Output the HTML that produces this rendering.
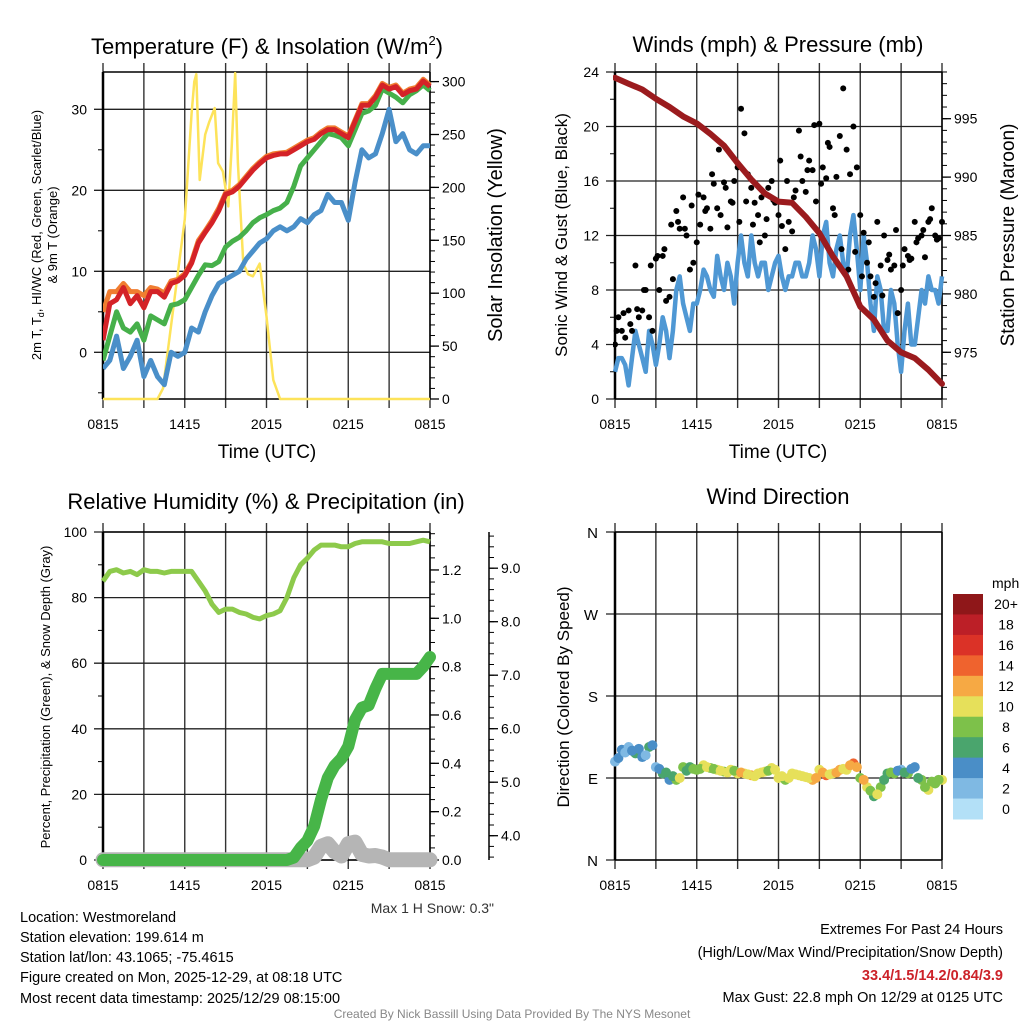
<!DOCTYPE html>
<html><head><meta charset="utf-8">
<style>
html,body{margin:0;padding:0;background:#fff;}
svg{display:block;font-family:"Liberation Sans",Arial,sans-serif;}
</style></head>
<body>
<svg id="chart" width="1024" height="1024" viewBox="0 0 1024 1024" xmlns="http://www.w3.org/2000/svg">
<rect x="0" y="0" width="1024" height="1024" fill="#fff"/>
<text x="267" y="54" font-size="22" text-anchor="middle">Temperature (F) &amp; Insolation (W/m<tspan dy="-9" font-size="13">2</tspan><tspan dy="9">)</tspan></text>
<text x="778" y="52" font-size="22" text-anchor="middle">Winds (mph) &amp; Pressure (mb)</text>
<text x="266" y="509" font-size="22" text-anchor="middle">Relative Humidity (%) &amp; Precipitation (in)</text>
<text x="778" y="504" font-size="22" text-anchor="middle">Wind Direction</text>

<text transform="translate(41,235) rotate(-90)" font-size="13" text-anchor="middle">2m T, T<tspan font-size="9" dy="3">d</tspan><tspan dy="-3">, HI/WC (Red, Green, Scarlet/Blue)</tspan></text>
<text transform="translate(57,235) rotate(-90)" font-size="13" text-anchor="middle">&amp; 9m T (Orange)</text>
<text transform="translate(502,235) rotate(-90)" font-size="20" text-anchor="middle">Solar Insolation (Yellow)</text>
<text x="267" y="458" font-size="19" text-anchor="middle">Time (UTC)</text>
<text transform="translate(567,235) rotate(-90)" font-size="17" text-anchor="middle">Sonic Wind &amp; Gust (Blue, Black)</text>
<text transform="translate(1014,235) rotate(-90)" font-size="19" text-anchor="middle">Station Pressure (Maroon)</text>
<text x="778" y="458" font-size="19" text-anchor="middle">Time (UTC)</text>
<text transform="translate(50,697) rotate(-90)" font-size="13" text-anchor="middle">Percent, Precipitation (Green), &amp; Snow Depth (Gray)</text>
<text transform="translate(569,697) rotate(-90)" font-size="17" text-anchor="middle">Direction (Colored By Speed)</text>

<text x="494" y="913" font-size="14" fill="#333" text-anchor="end">Max 1 H Snow: 0.3"</text>
<g font-size="14.5" fill="#000">
<text x="20" y="922">Location: Westmoreland</text>
<text x="20" y="942">Station elevation: 199.614 m</text>
<text x="20" y="962">Station lat/lon: 43.1065; -75.4615</text>
<text x="20" y="982">Figure created on Mon, 2025-12-29, at 08:18 UTC</text>
<text x="20" y="1003">Most recent data timestamp: 2025/12/29 08:15:00</text>
</g>
<g font-size="14.5" text-anchor="end">
<text x="1003" y="934">Extremes For Past 24 Hours</text>
<text x="1003" y="957">(High/Low/Max Wind/Precipitation/Snow Depth)</text>
<text x="1003" y="980" fill="#cc2229" font-weight="bold">33.4/1.5/14.2/0.84/3.9</text>
<text x="1003" y="1002">Max Gust: 22.8 mph On 12/29 at 0125 UTC</text>
</g>
<text x="512" y="1018" font-size="12" fill="#888" text-anchor="middle">Created By Nick Bassill Using Data Provided By The NYS Mesonet</text>
</svg>
<script>
// ---- data (half-hourly from 0815 UTC unless noted) ----
const xTickLabels = ["0815","1415","2015","0215","0815"];
const xTickHours = [0,6,12,18,24];
const tempTicks = [0,10,20,30];
const solarTicks = [0,50,100,150,200,250,300];
const windTicks = [0,4,8,12,16,20,24];
const pressTicks = [975,980,985,990,995];
const rhTicks = [0,20,40,60,80,100];
const precipTicks = ["0.0","0.2","0.4","0.6","0.8","1.0","1.2"];
const snowTicks = ["4.0","5.0","6.0","7.0","8.0","9.0"];
const dirLabels = ["N","E","S","W","N"];
const speedBinLabels = ["0","2","4","6","8","10","12","14","16","18","20+"];
const speedColors = ["#b3e0f7","#7fb9e3","#4a8ec7","#4aa56d","#7dc14a","#e6e05a","#f6a944","#ef632e","#db3227","#bc1f27","#8f1719"];

const tempRed = [1.5,6,6.5,8,6,7,5.5,7.5,7.5,6.8,8.5,8.8,9.5,11,13.5,14.8,16,17.5,19.5,19.8,20.5,21.5,22.5,23.3,24,24.3,24.5,24.5,25,25.5,26,26.3,27,27.5,27.5,27,26.5,28.5,30.5,30.5,31.5,33,32.5,32.8,31.8,32.3,32.5,33.5,32.8];
const tempOrange = [5,7.5,7.5,8.5,7.5,7.5,7,8,7.8,7.3,8.8,9,9.7,11.2,13.8,15,16.3,17.8,19.7,20,20.7,21.7,22.7,23.5,24.2,24.5,24.6,24.7,25.2,25.7,26.2,26.5,27.2,27.7,27.7,27.2,26.7,28.7,30.7,30.7,31.7,33.2,32.7,33,32,32.5,32.7,33.7,33];
const tempGreen = [-1,2,5,3,2.5,3.5,1.5,4.5,4,3.5,5.8,6,6.5,8,9.5,10.8,10.7,11.2,13,13.7,14.2,15,16,16.6,17,17.5,17.8,18.5,20.5,23,24,25,26,27,26.8,26.5,25.5,27.5,29.5,29.8,30.5,32.5,32,31.5,30.8,31.8,32.3,33,32.3];
const dewBlue = [-2,-1,2,-2,-0.5,1.5,-3,-1,-3,-4,0,-0.5,0,3,2.5,5,7,8.5,9,9.5,10,11.5,12.5,13.5,14,15,15.5,15,15.5,16.5,16,17,17.5,19.5,18.5,18.5,16.3,21,25,24,24.5,27,30,26,27,25,24.5,25.5,25.5];
const solarHours = [0,4,4.4,4.9,5.4,6,6.5,6.7,6.85,7.1,7.5,7.8,8.2,8.45,8.8,9.2,9.45,9.7,9.9,10.3,10.65,11,11.5,12,12.5,13,24];
const solarValues = [0,0,10,60,110,170,270,300,307,207,250,262,275,223,215,182,240,308,223,128,118,116,128,78,18,0,0];

// wind speed every 15 minutes
const windSpd15 = [2,3,3,2.5, 1,3,5,4, 3,2,5,4, 2.5,4,6,5, 3,5,8,9, 7,6,5,7, 7,8,9.5,9, 8,7.5,10.5,9, 8,10,9,7, 10,12,10,9, 12,10,9,10, 10,8,9,10, 10.5,9,8,9, 9,10,10,9, 9,10,12,11, 9,12,13,10, 9,11,12,10, 9,12,13.5,11, 8,12,10,7, 5,9,8,5, 5,8,7,4, 2,5,7,4, 4,6,8,7, 9,8,8,7, 9];
// gusts every 15 minutes, plus offset samples
const gustSpd = [4,6,5,4.5,6.5,5,9.8,6,6.5,8,6,5,10.3,8,10.5,7.2,7.5,8.8,13.8,12.5,14.8,12,9.5,10,11.5,12.8,14.8,14,12.5,15.8,14,13.5,15.9,12.6,14.5,16,17,21.3,19.5,16.5,15.5,14.4,13.5,14.8,12,15.5,16,14.4,13.5,12.7,11,13,12.3,15.3,19.7,16,15.2,17.5,16.8,14.5,20.2,17,16.2,18.5,14,16.3,19.3,22.8,18.3,16.5,20,17,13.5,12.2,10,9,7.5,13,9.8,12,10.2,9.5,9.8,6.3,8,11,10.5,10.3,13,11.8,12,10.4,13,14,12,11.8,13];
const gustSpd2 = [5,6.3,5.5,6.6,8,9.8,10.5,11,12.8,13,12.5,14.2,15,13.8,16.5,18.3,15.5,14.4,13,14.5,12.8,11.5,13.2,14.6,17.5,16,14.8,17.8,16.8,20.1,15.8,18.8,13.5,11,9.5,10.8,9,11.5,8.5,7.6,10.6,12.4,9.8,10.2,11.5,12.4,13.2,11.7];
const pressure = [998.5,998,997.5,996.7,996,995.2,994.6,993.7,992.7,991.2,989.8,988.6,987.9,987.8,986.6,985.2,983.2,981.5,978.9,977.8,976,975,974.5,973.5,972.3];

const rh = [85,88,88.5,87.5,88,87,88.5,88,88,87.5,88,88,88,88,85,82,78,75.5,76.5,76.5,75.5,75,74,73.5,74.5,75,76,80,86,90,92,94.5,96,96,96,95.5,95.5,96.5,97,97,97,97,96.5,96.5,96.5,96.5,97,97.5,97];
const precip = [0,0,0,0,0,0,0,0,0,0,0,0,0,0,0,0,0,0,0,0,0,0,0,0,0,0,0,0,0.01,0.05,0.08,0.14,0.25,0.34,0.39,0.42,0.47,0.58,0.63,0.64,0.71,0.77,0.77,0.77,0.77,0.77,0.77,0.8,0.84];
const snowDepth = [3.55,3.55,3.55,3.55,3.55,3.55,3.55,3.55,3.55,3.55,3.55,3.55,3.55,3.55,3.55,3.55,3.55,3.55,3.55,3.55,3.55,3.55,3.55,3.55,3.55,3.55,3.55,3.55,3.55,3.55,3.55,3.6,3.8,3.85,3.7,3.62,3.85,3.88,3.65,3.62,3.63,3.6,3.55,3.55,3.55,3.55,3.55,3.55,3.55];
const windDir = [108,121,124,117,113,124,102,95,88,88,102,102,99,104,101,99,97,99,95,95,93,95,97,101,90,88,95,93,91,88,99,93,95,99,99,106,90,80,70,80,95,95,99,95,102,88,77,84,88];
const windDir2 = [112,118,120,122,115,126,100,96,92,90,98,100,100,102,100,98,96,98,96,94,92,96,98,99,92,90,94,92,90,90,96,94,96,100,104,102,88,76,72,88,96,98,96,100,90,80,86,88];

// ---- helpers ----
const NS = "http://www.w3.org/2000/svg";
const svg = document.getElementById('chart');
function mk(tag, name, attrs, parent){
  const el = document.createElementNS(NS, tag);
  
  
  for (const k in attrs) el.setAttribute(k, attrs[k]);
  (parent || svg).appendChild(el);
  return el;
}
function txt(name, x, y, s, size, anchor, parent){
  const t = mk('text', name, {x:x, y:y, 'font-size':size, 'text-anchor':anchor}, parent);
  t.textContent = s;
  return t;
}
function pathOf(xs, ys){ return xs.map((x,i)=>(i?'L':'M')+x.toFixed(1)+' '+ys[i].toFixed(1)).join(' '); }
const halfHours = rh.map((_,i)=>i*0.5);

function panelFrame(prefix, x0, x1, yT, yB, hLines){
  const g = mk('g', prefix+'-frame', {});
  const xs = h => x0 + h*(x1-x0)/24;
  for (let h=0; h<=24; h+=3){
    mk('line', prefix+'-v-gridline', {x1:xs(h), x2:xs(h), y1:yT-9, y2:yB+9, stroke:'#333', 'stroke-width':1.4}, g);
  }
  hLines.forEach(y=>{
    mk('line', prefix+'-h-gridline', {x1:x0-9, x2:x1, y1:y, y2:y, stroke:'#222', 'stroke-width':1.3}, g);
  });
  mk('line', prefix+'-top-border', {x1:x0, x2:x1, y1:yT, y2:yT, stroke:'#000', 'stroke-width':1.5}, g);
  mk('line', prefix+'-bottom-border', {x1:x0, x2:x1, y1:yB, y2:yB, stroke:'#000', 'stroke-width':1.5}, g);
  mk('line', prefix+'-left-axis', {x1:x0, x2:x0, y1:yT, y2:yB, stroke:'#000', 'stroke-width':2.5}, g);
  mk('line', prefix+'-right-axis', {x1:x1, x2:x1, y1:yT, y2:yB, stroke:'#000', 'stroke-width':1.5}, g);
  const lab = mk('g', prefix+'-x-tick-labels', {}, g);
  xTickHours.forEach((h,i)=> txt(prefix+'-x-tick-label', xs(h), yB+30, xTickLabels[i], 14, 'middle', lab));
  return xs;
}
function rightTicks(prefix, x, yTop, yBot, majors, minorsFn){
  const g = mk('g', prefix+'-ticks', {});
  minorsFn().forEach(y=>{ if (y>=yTop-0.5 && y<=yBot+0.5) mk('line', prefix+'-minor-tick', {x1:x, x2:x+5, y1:y, y2:y, stroke:'#000','stroke-width':1}, g); });
  majors.forEach(m=>{
    mk('line', prefix+'-major-tick', {x1:x, x2:x+9, y1:m.y, y2:m.y, stroke:'#000','stroke-width':1.3}, g);
    txt(prefix+'-tick-label', x+12, m.y+5, m.label, 14, 'start', g);
  });
}
function leftLabels(prefix, x0, majors, minorYs){
  const g = mk('g', prefix+'-ticks', {});
  (minorYs||[]).forEach(y=> mk('line', prefix+'-minor-tick', {x1:x0-5, x2:x0, y1:y, y2:y, stroke:'#000','stroke-width':1}, g));
  majors.forEach(m=> txt(prefix+'-tick-label', x0-16, m.y+5, m.label, 14, 'end', g));
}

// ===== Panel 1: Temperature =====
const P1 = {x0:103, x1:430, yT:72, yB:399};
const yT1 = v => 352.3 - v*8.1;
const yS1 = w => 399 - w*1.058;
const x1f = panelFrame('temp', P1.x0, P1.x1, P1.yT, P1.yB, tempTicks.map(yT1));
leftLabels('temp-left', P1.x0, tempTicks.map(v=>({y:yT1(v), label:String(v)})), [-5,5,15,25].map(yT1));
rightTicks('solar-right', P1.x1, P1.yT, P1.yB, solarTicks.map(v=>({y:yS1(v), label:String(v)})),
  ()=>{const a=[]; for(let w=0; w<=310; w+=10) a.push(yS1(w)); return a;});
const clip1 = mk('clipPath','temp-clip',{id:'clip1'});
mk('rect','temp-clip-rect',{x:P1.x0, y:P1.yT-2, width:P1.x1-P1.x0+4, height:P1.yB-P1.yT+4}, clip1);
const g1 = mk('g','temp-series',{'clip-path':'url(#clip1)'});
mk('path','solar-line',{d:pathOf(solarHours.map(x1f), solarValues.map(yS1)), fill:'none', stroke:'#fde35a','stroke-width':2.5,'stroke-linejoin':'round'}, g1);
mk('path','dewpoint-line',{d:pathOf(halfHours.map(x1f), dewBlue.map(yT1)), fill:'none', stroke:'#4a8fc9','stroke-width':5,'stroke-linejoin':'round'}, g1);
mk('path','windchill-line',{d:pathOf(halfHours.map(x1f), tempGreen.map(yT1)), fill:'none', stroke:'#46b04a','stroke-width':5,'stroke-linejoin':'round'}, g1);
mk('path','temp-9m-line',{d:pathOf(halfHours.map(x1f), tempOrange.map(yT1)), fill:'none', stroke:'#f07d30','stroke-width':5,'stroke-linejoin':'round'}, g1);
mk('path','temp-2m-line',{d:pathOf(halfHours.map(x1f), tempRed.map(yT1)), fill:'none', stroke:'#d42227','stroke-width':5,'stroke-linejoin':'round'}, g1);

// ===== Panel 2: Winds & Pressure =====
const P2 = {x0:615, x1:942, yT:72, yB:399};
const yW2 = v => 399 - v*13.625;
const yP2 = p => 352.3 - (p-975)*11.68;
const x2f = panelFrame('wind', P2.x0, P2.x1, P2.yT, P2.yB, windTicks.map(yW2));
leftLabels('wind-left', P2.x0, windTicks.map(v=>({y:yW2(v), label:String(v)})), [2,6,10,14,18,22].map(yW2));
rightTicks('pressure-right', P2.x1, P2.yT, P2.yB, pressTicks.map(v=>({y:yP2(v), label:String(v)})),
  ()=>{const a=[]; for(let p=971; p<=999; p++) a.push(yP2(p)); return a;});
const clip2 = mk('clipPath','wind-clip',{id:'clip2'});
mk('rect','wind-clip-rect',{x:P2.x0-2, y:P2.yT-4, width:P2.x1-P2.x0+6, height:P2.yB-P2.yT+6}, clip2);
const g2 = mk('g','wind-series',{'clip-path':'url(#clip2)'});
const quarterHours = windSpd15.map((_,i)=>i*0.25);
mk('path','wind-speed-line',{d:pathOf(quarterHours.map(x2f), windSpd15.map(yW2)), fill:'none', stroke:'#4f98d4','stroke-width':4.5,'stroke-linejoin':'round'}, g2);
const gustG = mk('g','gust-points',{}, g2);
gustSpd.forEach((v,i)=>{
  mk('circle','gust-point',{cx:x2f(i*0.25), cy:yW2(v), r:3, fill:'#000'}, gustG);
});
gustSpd2.forEach((v,i)=>{
  mk('circle','gust-point',{cx:x2f(0.125+i*0.5), cy:yW2(v), r:3, fill:'#000'}, gustG);
});
const hours = pressure.map((_,i)=>i);
mk('path','pressure-line',{d:pathOf(hours.map(x2f), pressure.map(yP2)), fill:'none', stroke:'#9b1b1e','stroke-width':6,'stroke-linecap':'round','stroke-linejoin':'round'}, g2);

// ===== Panel 3: RH & Precip =====
const P3 = {x0:103, x1:430, yT:532, yB:860};
const yR3 = v => 860 - v*3.28;
const yPr3 = p => 860 - p*241.7;
const ySn3 = s => 835.7 - (s-4)*53.5;
const x3f = panelFrame('rh', P3.x0, P3.x1, P3.yT, P3.yB, rhTicks.map(yR3));
leftLabels('rh-left', P3.x0, rhTicks.map(v=>({y:yR3(v), label:String(v)})), [10,30,50,70,90].map(yR3));
rightTicks('precip-right', P3.x1, P3.yT, P3.yB, precipTicks.map(v=>({y:yPr3(parseFloat(v)), label:v})),
  ()=>{const a=[]; for(let p=0; p<=1.36; p+=0.05) a.push(yPr3(p)); return a;});
mk('line','snow-axis-line',{x1:489, x2:489, y1:P3.yT, y2:P3.yB, stroke:'#000','stroke-width':1.5});
rightTicks('snow-right', 489, P3.yT, P3.yB, snowTicks.map(v=>({y:ySn3(parseFloat(v)), label:v})),
  ()=>{const a=[]; for(let s=3.6; s<=9.6; s+=0.2) a.push(ySn3(s)); return a;});
const g3 = mk('g','rh-series',{});
mk('path','snow-depth-line',{d:pathOf(halfHours.map(x3f), snowDepth.map(ySn3)), fill:'none', stroke:'#b5b5b5','stroke-width':15,'stroke-linecap':'round','stroke-linejoin':'round'}, g3);
mk('path','precip-line',{d:pathOf(halfHours.map(x3f), precip.map(yPr3)), fill:'none', stroke:'#47b548','stroke-width':12,'stroke-linecap':'round','stroke-linejoin':'round'}, g3);
mk('path','rh-line',{d:pathOf(halfHours.map(x3f), rh.map(yR3)), fill:'none', stroke:'#8dca4b','stroke-width':5,'stroke-linejoin':'round'}, g3);

// ===== Panel 4: Wind direction =====
const P4 = {x0:615, x1:942, yT:532, yB:860};
const yD4 = d => 860 - d*(328/360);
const dirDeg = [0,90,180,270,360];
const x4f = panelFrame('direction', P4.x0, P4.x1, P4.yT, P4.yB, dirDeg.map(yD4));
const dl = mk('g','direction-tick-labels',{});
dirDeg.forEach((d,i)=> txt('direction-tick-label', 598, yD4(d)+6, dirLabels[i], 15, 'end', dl));
const g4 = mk('g','direction-points',{});
windDir.forEach((d,i)=>{
  const bin = Math.min(10, Math.round(windSpd15[i*2]/2));
  mk('circle','direction-point',{cx:x4f(i*0.5), cy:yD4(d), r:5, fill:speedColors[bin]}, g4);
});
windDir2.forEach((d,i)=>{
  const bin = Math.min(10, Math.round(windSpd15[i*2+1]/2));
  mk('circle','direction-point',{cx:x4f(0.25+i*0.5), cy:yD4(d), r:5, fill:speedColors[bin]}, g4);
});
// colorbar
const cb = mk('g','speed-colorbar',{});
txt('colorbar-unit-label', 992, 588, 'mph', 14, 'start', cb);
const cbTop = 594, cbH = 225/11;
speedColors.slice().reverse().forEach((col,i)=>{
  mk('rect','colorbar-swatch',{x:953, y:cbTop+i*cbH, width:30, height:cbH+0.5, fill:col}, cb);
});
speedBinLabels.slice().reverse().forEach((lab,i)=>{
  txt('colorbar-label', 1006, cbTop+i*cbH+cbH/2+5, lab, 14, 'middle', cb);
});
</script>
</body></html>
